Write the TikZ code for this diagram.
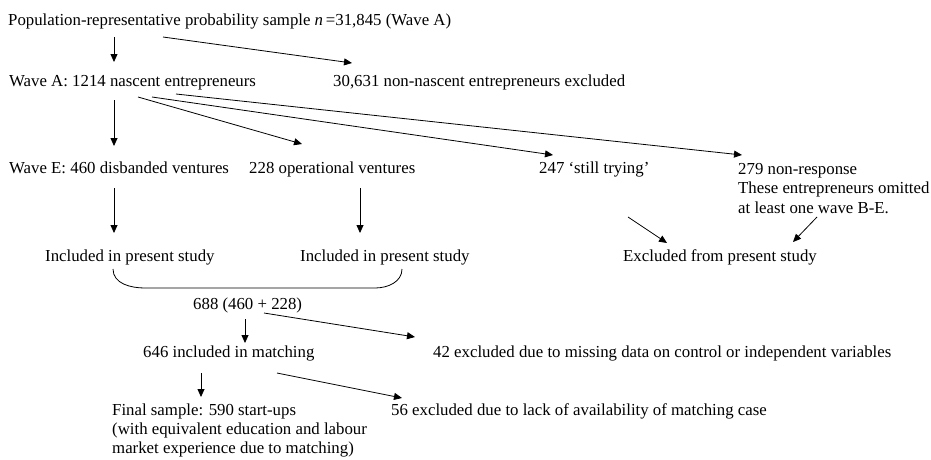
\documentclass[tikz,border=0pt]{standalone}
\usepackage{fontspec}
\setmainfont{Liberation Serif}
\usetikzlibrary{arrows.meta}
\begin{document}
\begin{tikzpicture}[x=1pt,y=-1pt,
  lbl/.style={anchor=base west,inner sep=0pt,font=\fontsize{16.8}{19.5}\selectfont,align=left},
  arr/.style={-{Triangle[length=8pt,width=7pt]},line width=0.8pt}]

\useasboundingbox (0,0) rectangle (931,459);

% base west of a multi-line label is the baseline of its last line
\node[lbl] (pop)     at (8,25)   {Population-representative probability sample \textit{n}\,=31,845 (Wave A)};
\node[lbl] (waveA)   at (9,86)   {Wave A: 1214 nascent entrepreneurs};
\node[lbl] (nonnasc) at (333,86) {30,631 non-nascent entrepreneurs excluded};
\node[lbl] (waveE)   at (9,173)  {Wave E: 460 disbanded ventures};
\node[lbl] (oper)    at (249,173) {228 operational ventures};
\node[lbl] (still)   at (539,173) {247 ‘still trying’};
\node[lbl] (nonresp) at (738,213) {279 non-response\\These entrepreneurs omitted\\at least one wave B-E.};
\node[lbl] (incl1)   at (45,261)  {Included in present study};
\node[lbl] (incl2)   at (300,261) {Included in present study};
\node[lbl] (excl)    at (623,261) {Excluded from present study};
\node[lbl] (sum)     at (193,309) {688 (460 + 228)};
\node[lbl] (match)   at (143,357) {646 included in matching};
\node[lbl] (miss)    at (433,357) {42 excluded due to missing data on control or independent variables};
\node[lbl,font=\fontsize{16.8}{19}\selectfont] (final) at (112,453) {Final sample: 590 start-ups\\(with equivalent education and labour\\market experience due to matching)};
\node[lbl] (lack)    at (391,415) {56 excluded due to lack of availability of matching case};

\draw[arr] ([shift={(106,12)}]pop.base west) -- ([shift={(105,-24)}]waveA.base west);
\draw[arr] ([shift={(155,12)}]pop.base west) -- ([shift={(19,-23)}]nonnasc.base west);

\draw[arr] ([shift={(105,14)}]waveA.base west) -- ([shift={(105,-27)}]waveE.base west);
\draw[arr] ([shift={(129,11)}]waveA.base west) -- ([shift={(53,-29)}]oper.base west);
\draw[arr] ([shift={(143,11)}]waveA.base west) -- ([shift={(14,-18)}]still.base west);
\draw[arr] ([shift={(167,8)}]waveA.base west) -- ([shift={(4,-58)}]nonresp.base west);

\draw[arr] ([shift={(105,15)}]waveE.base west) -- ([shift={(69,-28)}]incl1.base west);
\draw[arr] ([shift={(111,15)}]oper.base west) -- ([shift={(60,-28)}]incl2.base west);
\draw[arr] ([shift={(89,44)}]still.base west) -- ([shift={(44,-18)}]excl.base west);
\draw[arr] ([shift={(79,4)}]nonresp.base west) -- ([shift={(170,-19)}]excl.base west);

\draw[line width=0.8pt] ([shift={(68,8)}]incl1.base west) to[out=-90,in=180] ([shift={(100,27)}]incl1.base west)
  -- ([shift={(75,27)}]incl2.base west) to[out=0,in=-90] ([shift={(102,8)}]incl2.base west);

\draw[arr] ([shift={(52,10)}]sum.base west) -- ([shift={(102,-14)}]match.base west);
\draw[arr] ([shift={(71,4)}]sum.base west) -- ([shift={(-18,-20)}]miss.base west);
\draw[arr] ([shift={(58,16)}]match.base west) -- ([shift={(89,-56)}]final.base west);
\draw[arr] ([shift={(134,16)}]match.base west) -- ([shift={(11,-17)}]lack.base west);

\end{tikzpicture}
\end{document}
